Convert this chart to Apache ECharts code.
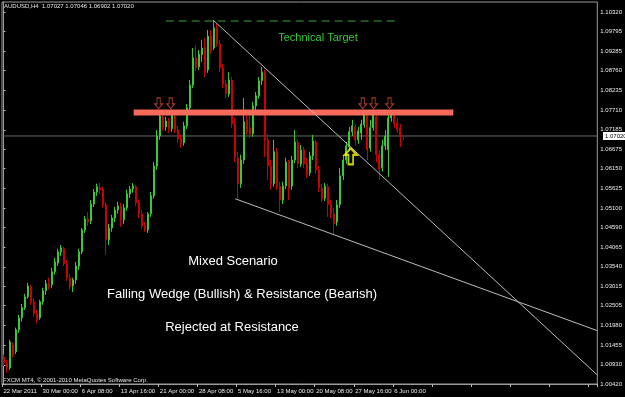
<!DOCTYPE html>
<html><head><meta charset="utf-8">
<script src="https://cdn.jsdelivr.net/npm/echarts@6/dist/echarts.min.js"></script>
<style>html,body{margin:0;padding:0;background:#000;}#c{width:625px;height:397px;}</style>
</head><body><div id="c"></div>
<script>
const xTickLabels = ["22 Mar 2011","30 Mar 00:00","6 Apr 08:00","13 Apr 16:00","21 Apr 00:00","28 Apr 08:00","5 May 16:00","13 May 00:00","20 May 08:00","27 May 16:00","6 Jun 00:00"];
const yTickValues = [1.00420,1.00930,1.01455,1.01980,1.02505,1.03015,1.03540,1.04065,1.04590,1.05100,1.05625,1.06150,1.06675,1.07185,1.07710,1.08235,1.08760,1.09285,1.09795,1.10320];

const opens = [
1.0114,1.0098,1.0085,1.0146,1.0128,1.0186,1.0218,1.0245,1.0274,1.0301,
1.0261,1.0229,1.0218,1.0261,1.0290,1.0309,1.0306,1.0341,1.0364,1.0394,
1.0402,1.0362,1.0325,1.0303,1.0319,1.0356,1.0394,1.0452,1.0481,1.0476,
1.0521,1.0553,1.0564,1.0559,1.0519,1.0426,1.0457,1.0484,1.0505,1.0516,
1.0479,1.0511,1.0548,1.0561,1.0567,1.0524,1.0495,1.0463,1.0452,1.0495,
1.0543,1.0622,1.0702,1.0753,1.0726,1.0742,1.0721,1.0755,1.0718,1.0694,
1.0684,1.0729,1.0777,1.0838,1.0910,1.0886,1.0918,1.0936,1.0878,1.0968,
1.0936,1.0990,1.0947,1.0883,1.0841,1.0814,1.0851,1.0734,1.0644,1.0575,
1.0638,1.0745,1.0724,1.0708,1.0782,1.0809,1.0849,1.0872,1.0692,1.0622,
1.0575,1.0660,1.0569,1.0532,1.0569,1.0633,1.0569,1.0638,1.0684,1.0628,
1.0665,1.0630,1.0604,1.0649,1.0686,1.0612,1.0564,1.0537,1.0567,1.0519,
1.0495,1.0473,1.0519,1.0596,1.0638,1.0673,1.0713,1.0726,1.0692,1.0710,
1.0732,1.0755,1.0670,1.0724,1.0753,1.0652,1.0617,1.0676,1.0665,1.0750,
1.0763,1.0737,1.0724,1.07027];
const closes = [
1.0098,1.0085,1.0154,1.0120,1.0186,1.0218,1.0245,1.0274,1.0303,1.0261,
1.0229,1.0213,1.0261,1.0290,1.0309,1.0303,1.0341,1.0367,1.0394,1.0404,
1.0362,1.0325,1.0301,1.0319,1.0356,1.0394,1.0452,1.0481,1.0473,1.0521,
1.0553,1.0567,1.0559,1.0519,1.0426,1.0457,1.0484,1.0505,1.0516,1.0479,
1.0511,1.0548,1.0561,1.0569,1.0524,1.0495,1.0463,1.0452,1.0495,1.0543,
1.0622,1.0702,1.0755,1.0724,1.0742,1.0721,1.0758,1.0718,1.0694,1.0681,
1.0729,1.0777,1.0838,1.0910,1.0883,1.0920,1.0936,1.0872,1.0968,1.0931,
1.0990,1.0947,1.0883,1.0841,1.0814,1.0851,1.0734,1.0644,1.0575,1.0638,
1.0740,1.0713,1.0705,1.0782,1.0809,1.0849,1.0872,1.0692,1.0622,1.0575,
1.0660,1.0569,1.0532,1.0569,1.0633,1.0564,1.0638,1.0686,1.0628,1.0665,
1.0628,1.0601,1.0649,1.0689,1.0612,1.0564,1.0535,1.0569,1.0519,1.0495,
1.0468,1.0519,1.0596,1.0638,1.0676,1.0713,1.0729,1.0692,1.0716,1.0734,
1.0761,1.0665,1.0724,1.0758,1.0652,1.0612,1.0676,1.0702,1.0750,1.0761,
1.0734,1.0718,1.0700,1.07020];
const lows = [
1.0090,1.0072,1.0080,1.0112,1.0122,1.0178,1.0208,1.0239,1.0269,1.0253,
1.0221,1.0205,1.0213,1.0253,1.0279,1.0293,1.0298,1.0333,1.0356,1.0383,
1.0356,1.0317,1.0293,1.0287,1.0309,1.0346,1.0388,1.0444,1.0463,1.0468,
1.0513,1.0543,1.0548,1.0511,1.0386,1.0412,1.0447,1.0473,1.0495,1.0460,
1.0468,1.0503,1.0537,1.0551,1.0516,1.0484,1.0455,1.0447,1.0444,1.0487,
1.0535,1.0612,1.0692,1.0716,1.0716,1.0710,1.0713,1.0710,1.0684,1.0670,
1.0676,1.0721,1.0769,1.0830,1.0875,1.0878,1.0899,1.0859,1.0870,1.0920,
1.0931,1.0939,1.0872,1.0830,1.0803,1.0806,1.0724,1.0633,1.0537,1.0564,
1.0628,1.0705,1.0697,1.0700,1.0771,1.0801,1.0838,1.0646,1.0585,1.0559,
1.0567,1.0559,1.0500,1.0521,1.0561,1.0532,1.0559,1.0630,1.0617,1.0620,
1.0617,1.0591,1.0596,1.0638,1.0601,1.0553,1.0527,1.0529,1.0487,1.0484,
1.0439,1.0463,1.0511,1.0585,1.0628,1.0665,1.0702,1.0676,1.0681,1.0692,
1.0724,1.0638,1.0660,1.0716,1.0633,1.0585,1.0607,1.0665,1.0593,1.0740,
1.0724,1.0710,1.0673,1.06902];
const highs = [
1.0120,1.0106,1.0160,1.0152,1.0192,1.0226,1.0255,1.0282,1.0311,1.0306,
1.0269,1.0239,1.0266,1.0298,1.0319,1.0325,1.0351,1.0378,1.0402,1.0412,
1.0407,1.0372,1.0335,1.0325,1.0367,1.0402,1.0457,1.0489,1.0500,1.0532,
1.0561,1.0575,1.0577,1.0567,1.0527,1.0468,1.0492,1.0513,1.0527,1.0524,
1.0521,1.0559,1.0569,1.0577,1.0572,1.0532,1.0505,1.0473,1.0500,1.0553,
1.0633,1.0718,1.0771,1.0761,1.0753,1.0750,1.0771,1.0763,1.0729,1.0705,
1.0740,1.0787,1.0851,1.0936,1.0944,1.0931,1.0958,1.0963,1.0984,1.0984,
1.1011,1.1000,1.0958,1.0894,1.0851,1.0872,1.0859,1.0750,1.0660,1.0652,
1.0803,1.0766,1.0763,1.0793,1.0819,1.0859,1.0886,1.0878,1.0708,1.0638,
1.0692,1.0670,1.0580,1.0580,1.0644,1.0638,1.0649,1.0718,1.0692,1.0678,
1.0673,1.0644,1.0660,1.0705,1.0692,1.0622,1.0575,1.0577,1.0575,1.0532,
1.0511,1.0532,1.0617,1.0652,1.0686,1.0726,1.0745,1.0734,1.0726,1.0745,
1.0769,1.0763,1.0745,1.0769,1.0761,1.0665,1.0692,1.0718,1.0758,1.0771,
1.0771,1.0750,1.0734,1.07046];

const lastPrice = 1.07020;
const resistanceLevel = 1.07647;
const targetLevel = 1.1008;
// trend lines as [barIndex, price] pairs
const upperWedge = [[69.8, 1.1010], [197.5, 1.0066]];
const lowerWedge = [[77.05, 1.0535], [197.5, 1.0184]];
const resistanceSpan = [43.3, 149.6];
const targetSpan = [53.95, 130.8];
const resistanceArrows = [[51.6, 1.0789], [55.6, 1.0789], [119.5, 1.0789], [123.1, 1.0789], [128.4, 1.0789]];
const breakoutArrow = [[115.5, 1.0648]];

const NCAT = 198;
const categories = [];
for (let i = 0; i < NCAT; i++) categories.push(i % 13 === 0 && xTickLabels[i / 13] ? xTickLabels[i / 13] : '');
const candles = opens.map((o, i) => [o, closes[i], lows[i], highs[i]]);

const FONT = 'Liberation Sans';
const chart = echarts.init(document.getElementById('c'), null, {renderer: 'canvas'});
chart.setOption({
  backgroundColor: '#000',
  animation: false,
  grid: {left: 2, right: 23, top: 2, bottom: 13, show: true, borderColor: '#9a9a9a', borderWidth: 1, backgroundColor: '#000'},
  xAxis: [{
    type: 'category', data: categories, boundaryGap: true,
    axisLine: {show: true, lineStyle: {color: '#9a9a9a'}},
    axisTick: {show: true, interval: 12, length: 3, lineStyle: {color: '#bbbbbb'}},
    axisLabel: {interval: 12, color: '#ececec', fontSize: 6, fontFamily: FONT, align: 'left', margin: 4},
    splitLine: {show: false}
  }, {
    type: 'value', min: -0.5, max: NCAT - 0.5, show: false
  }],
  yAxis: {
    type: 'value', position: 'right', min: 1.00420, max: 1.10586, scale: true,
    axisLine: {show: true, lineStyle: {color: '#9a9a9a'}},
    axisTick: {show: true, length: 2, customValues: yTickValues, lineStyle: {color: '#bbbbbb'}},
    axisLabel: {customValues: yTickValues, color: '#ececec', fontSize: 6, fontFamily: FONT, margin: 3,
      formatter: v => v.toFixed(5)},
    splitLine: {show: false}
  },
  series: [
    {type: 'line', xAxisIndex: 1, data: [[-0.5, lastPrice], [NCAT - 0.5, lastPrice]], symbol: 'none',
      lineStyle: {color: '#6a6a6a', width: 1}, silent: true, z: 1},
    {type: 'candlestick', data: candles, barWidth: 1.5, z: 3,
      itemStyle: {color: '#2eb82e', color0: '#c00000', borderColor: '#33cc33', borderColor0: '#cc0000', borderWidth: 1}},
    {type: 'line', xAxisIndex: 1, data: [[resistanceSpan[0], resistanceLevel], [resistanceSpan[1], resistanceLevel]], symbol: 'none',
      lineStyle: {color: '#f86a5a', width: 6, cap: 'butt'}, z: 4},
    {type: 'line', xAxisIndex: 1, data: [[targetSpan[0], targetLevel], [targetSpan[1], targetLevel]], symbol: 'none',
      lineStyle: {color: '#36a336', width: 1, type: [8, 5]}, z: 4},
    {type: 'line', xAxisIndex: 1, data: upperWedge, symbol: 'none', lineStyle: {color: '#bdbdbd', width: 1}, z: 5},
    {type: 'line', xAxisIndex: 1, data: lowerWedge, symbol: 'none', lineStyle: {color: '#bdbdbd', width: 1}, z: 5},
    {type: 'scatter', xAxisIndex: 1, data: resistanceArrows, symbol: 'path://M3,0L7,0L7,6L10,6L5,11L0,6L3,6Z',
      symbolSize: [8, 11], itemStyle: {color: 'rgba(0,0,0,0)', borderColor: '#d24a36', borderWidth: 1}, z: 6},
    {type: 'scatter', xAxisIndex: 1, data: breakoutArrow, symbol: 'path://M0,7L6.5,0L13,7L9,7L9,17L4,17L4,7Z',
      symbolSize: [12, 16], itemStyle: {color: 'rgba(0,0,0,0)', borderColor: '#ffff00', borderWidth: 2}, z: 6}
  ],
  graphic: [
    {type: 'text', left: 4, top: 3, style: {text: 'AUDUSD,H4  1.07027 1.07046 1.06902 1.07020', fill: '#e6e6e6', font: '6px ' + FONT}},
    {type: 'text', left: 3, top: 377, style: {text: 'FXCM MT4, \u00a9 2001-2010 MetaQuotes Software Corp.', fill: '#e6e6e6', font: '6px ' + FONT}},
    {type: 'rect', shape: {x: 603, y: 132, width: 22, height: 8}, style: {fill: '#ffffff'}, z: 10},
    {type: 'text', x: 605, y: 136, style: {text: lastPrice.toFixed(5), fill: '#000', font: '6px ' + FONT, verticalAlign: 'middle'}, z: 11},
    {type: 'text', x: 318, y: 38, style: {text: 'Technical Target', fill: '#33cc33', font: '11px ' + FONT, align: 'center', verticalAlign: 'middle'}},
    {type: 'text', x: 233, y: 261, style: {text: 'Mixed Scenario', fill: '#ffffff', font: '13px ' + FONT, align: 'center', verticalAlign: 'middle'}},
    {type: 'text', x: 242, y: 294, style: {text: 'Falling Wedge (Bullish) & Resistance (Bearish)', fill: '#ffffff', font: '13px ' + FONT, align: 'center', verticalAlign: 'middle'}},
    {type: 'text', x: 232, y: 327, style: {text: 'Rejected at Resistance', fill: '#ffffff', font: '13px ' + FONT, align: 'center', verticalAlign: 'middle'}}
  ]
});
</script>
</body></html>
